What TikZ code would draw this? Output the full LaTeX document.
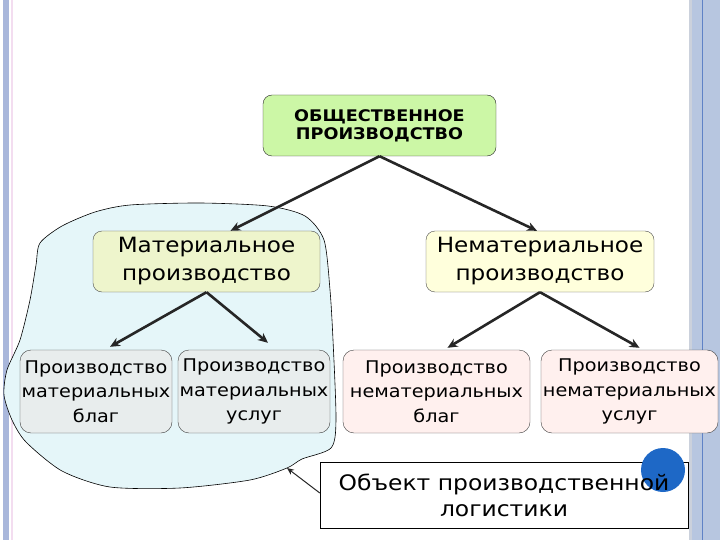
\documentclass[tikz,border=0pt]{standalone}
\usepackage{fontspec}
\setmainfont[FakeStretch=1.1]{DejaVu Sans}
\usepackage{tikz}
\usetikzlibrary{arrows.meta,positioning,calc}
\definecolor{slStrip}{HTML}{A9B7DB}
\definecolor{slStripLight}{HTML}{B7C6E0}
\definecolor{slStripLine}{HTML}{5F82C6}
\definecolor{slPink}{HTML}{F3DDF0}
\definecolor{slGrayLine}{HTML}{CBD1DC}
\definecolor{pdGreen}{HTML}{CCF7A6}
\definecolor{pdOlive}{HTML}{EEF5CC}
\definecolor{pdYellow}{HTML}{FFFFDC}
\definecolor{pdGray}{HTML}{E8EDED}
\definecolor{pdPink}{HTML}{FFF0EE}
\definecolor{pdBlob}{HTML}{E5F6F9}
\definecolor{pdDot}{HTML}{1E68C6}
\tikzset{
  % Top box (green, bold caps)
  topbox/.style={rectangle,rounded corners=9pt,
    minimum width=233pt,minimum height=61pt,inner sep=0pt,
    align=center,draw=black!85,fill=pdGreen,
    font=\bfseries\fontsize{16}{18}\selectfont},
  % Middle level box
  midbox/.style={rectangle,rounded corners=9pt,
    minimum width=227pt,minimum height=61pt,inner sep=0pt,
    align=center,draw=black!70,
    font=\fontsize{21}{28}\selectfont},
  % Lower level box
  lowbox/.style={rectangle,rounded corners=11pt,
    minimum height=83pt,inner sep=0pt,
    align=center,draw=black!75,
    font=\fontsize{17.5}{24.5}\selectfont},
  % Caption box
  objbox/.style={rectangle,minimum width=368pt,minimum height=66pt,
    inner sep=0pt,draw=black,fill=white},
  objtext/.style={inner sep=0pt,align=center,
    font=\fontsize{21.3}{26}\selectfont},
  % Arrows
  arr/.style={-{Stealth[length=10pt,width=9pt]},line width=2.6pt,color=black!85},
  arrt/.style={-{Stealth[length=7pt,width=6pt]},line width=1pt,color=black!85},
}

\begin{document}
\begin{tikzpicture}[x=1pt,y=-1pt]
  \useasboundingbox (0,0) rectangle (720,540);
  % slide frame
  \fill[slStrip] (3,0) rectangle (9,540);
  \fill[slPink] (11,0) rectangle (12.5,540);
  \fill[slGrayLine] (689,0) rectangle (692,540);
  \fill[slStripLight] (692,0) rectangle (720,540);
  \draw[slStripLine,line width=0.8pt] (702,0) -- (702,540);

  % area of the material branch
  \draw[black,line width=0.6pt,fill=pdBlob] plot[smooth cycle,tension=0.45] coordinates {
    (40,243) (62,226) (95,212) (130,205) (200,203) (268,206)
    (305,216) (324,240) (330,290) (333,340) (336,420) (331,448)
    (302,459) (287,468) (250,480) (180,488) (110,487) (62,471)
    (26,442) (12,420) (4,395) (7,370) (20,340) (30,300) (36,265)};
  \coordinate (blobtip) at (287,468);

  \node[topbox] (soc) at (379.5,125.5) {ОБЩЕСТВЕННОЕ\\ПРОИЗВОДСТВО};

  \node[midbox,fill=pdOlive] (mat) at (206.5,261.5)
    {Материальное\\производство};
  \node[midbox,fill=pdYellow,minimum width=228pt] (nemat) at (540,261.5)
    {Нематериальное\\производство};

  \node[lowbox,fill=pdGray,minimum width=152pt] (mgoods) at (96,391.5)
    {Производство\\материальных\\благ};
  \node[lowbox,fill=pdGray,minimum width=152pt] (mserv) at (254,391.5)
    {Производство\\материальных\\услуг};
  \node[lowbox,fill=pdPink,minimum width=187pt] (ngoods) at (436.5,391.5)
    {Производство\\нематериальных\\благ};
  \node[lowbox,fill=pdPink,minimum width=177pt] (nserv) at (629.5,391.5)
    {Производство\\нематериальных\\услуг};

  % caption box, the dot sits between frame and text
  \node[objbox] (obj) at (504,495) {};
  \node[circle,fill=pdDot,minimum size=44pt,inner sep=0pt] (dot) at (663,470) {};
  \node[objtext] (objlbl) at (obj.center) {Объект производственной\\логистики};

  \draw[arr] (soc.south) -- ([xshift=24pt]mat.north);
  \draw[arr] (soc.south) -- ([xshift=-3pt]nemat.north);
  \draw[arr] (mat.south) -- ([xshift=14pt,yshift=3pt]mgoods.north);
  \draw[arr] (mat.south) -- ([xshift=14pt,yshift=7pt]mserv.north);
  \draw[arr] (nemat.south) -- ([xshift=11pt,yshift=2pt]ngoods.north);
  \draw[arr] (nemat.south) -- ([xshift=10pt,yshift=2pt]nserv.north);
  \draw[arrt] ([yshift=2pt]obj.west) -- (blobtip);
\end{tikzpicture}
\end{document}
